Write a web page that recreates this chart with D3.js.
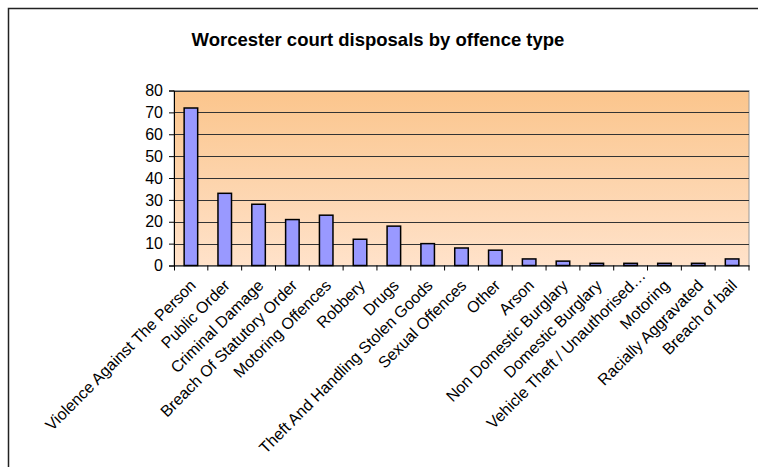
<!DOCTYPE html>
<html><head><meta charset="utf-8">
<script src="https://cdn.jsdelivr.net/npm/d3@7"></script>
<style>body{margin:0;background:#fff}svg{display:block}</style>
</head><body>
<svg id="c" width="758" height="467"></svg>
<script>
const categories = ["Violence Against The Person","Public Order","Criminal Damage","Breach Of Statutory Order","Motoring Offences","Robbery","Drugs","Theft And Handling Stolen Goods","Sexual Offences","Other","Arson","Non Domestic Burglary","Domestic Burglary","Vehicle Theft / Unauthorised\u2026","Motoring","Racially Aggravated","Breach of bail"];
const values = [72,33,28,21,23,12,18,10,8,7,3,2,1,1,1,1,3];
const yTicks = [0,10,20,30,40,50,60,70,80];
const title = "Worcester court disposals by offence type";

const svg = d3.select("#c");
const m = {left:174, right:749, top:90.5, bottom:265.5};
const x = d3.scaleBand().domain(categories).range([m.left, m.right]).paddingInner(0.6).paddingOuter(0.3);
const xb = d3.scaleBand().domain(categories).range([m.left, m.right]);
const y = d3.scaleLinear().domain([0,80]).range([m.bottom, m.top]);

// frame
svg.append("path").attr("d","M8.5,467 L8.5,8.5 L758,8.5").attr("fill","none").attr("stroke","#222").attr("stroke-width",1.5);

const defs = svg.append("defs");
const g = defs.append("linearGradient").attr("id","bg").attr("x1",0).attr("y1",0).attr("x2",0).attr("y2",1);
g.append("stop").attr("offset","0%").attr("stop-color","#fbc58c");
g.append("stop").attr("offset","100%").attr("stop-color","#ffe2ca");

svg.append("rect").attr("x",m.left).attr("y",m.top).attr("width",m.right-m.left).attr("height",m.bottom-m.top)
  .attr("fill","url(#bg)").attr("stroke","#999").attr("stroke-width",1);

// gridlines
svg.append("g").selectAll("line").data(yTicks.filter(d=>d>0)).join("line")
  .attr("x1",m.left).attr("x2",m.right).attr("y1",d=>Math.round(y(d))+0.5).attr("y2",d=>Math.round(y(d))+0.5)
  .attr("stroke","#333").attr("stroke-width",1);

// bars
svg.append("g").selectAll("rect").data(values).join("rect")
  .attr("x",(d,i)=>x(categories[i])).attr("width",x.bandwidth())
  .attr("y",d=>y(d)).attr("height",d=>y(0)-y(d))
  .attr("fill","#9999ff").attr("stroke","#000").attr("stroke-width",1.5);

// y axis
const ya = d3.axisLeft(y).tickValues(yTicks).tickSize(5).tickPadding(6).tickFormat(d3.format("d"));
const yg = svg.append("g").attr("transform",`translate(${m.left},0)`).call(ya);
yg.select(".domain").attr("stroke","#000");
yg.selectAll(".tick line").attr("stroke","#000");
yg.selectAll("text").attr("font-family","Liberation Sans, Arial, sans-serif").attr("font-size",16).attr("fill","#000");

// x axis
const xa = d3.axisBottom(xb).tickSize(5).tickSizeOuter(0).tickFormat(()=>"");
const xg = svg.append("g").attr("transform",`translate(0,${m.bottom})`).call(xa);
xg.select(".domain").attr("stroke","#000");
xg.selectAll(".tick line").attr("transform",`translate(${xb.bandwidth()/2},0)`).attr("stroke","#000");
xg.append("line").attr("x1",m.left+0.5).attr("x2",m.left+0.5).attr("y1",0).attr("y2",5).attr("stroke","#000");

// category labels
svg.append("g").selectAll("text").data(categories).join("text")
  .attr("transform",d=>`translate(${xb(d)+xb.bandwidth()/2+6},${m.bottom+21}) rotate(-45)`)
  .attr("text-anchor","end")
  .attr("dx",d=>d.endsWith("\u2026")?14:0)
  .attr("font-family","Liberation Sans, Arial, sans-serif").attr("font-size",16).attr("fill","#000")
  .text(d=>d);

// title
svg.append("text").attr("x",378).attr("y",46).attr("text-anchor","middle")
  .attr("font-family","Liberation Sans, Arial, sans-serif").attr("font-weight","bold").attr("font-size",18.5)
  .text(title);
</script>
</body></html>
